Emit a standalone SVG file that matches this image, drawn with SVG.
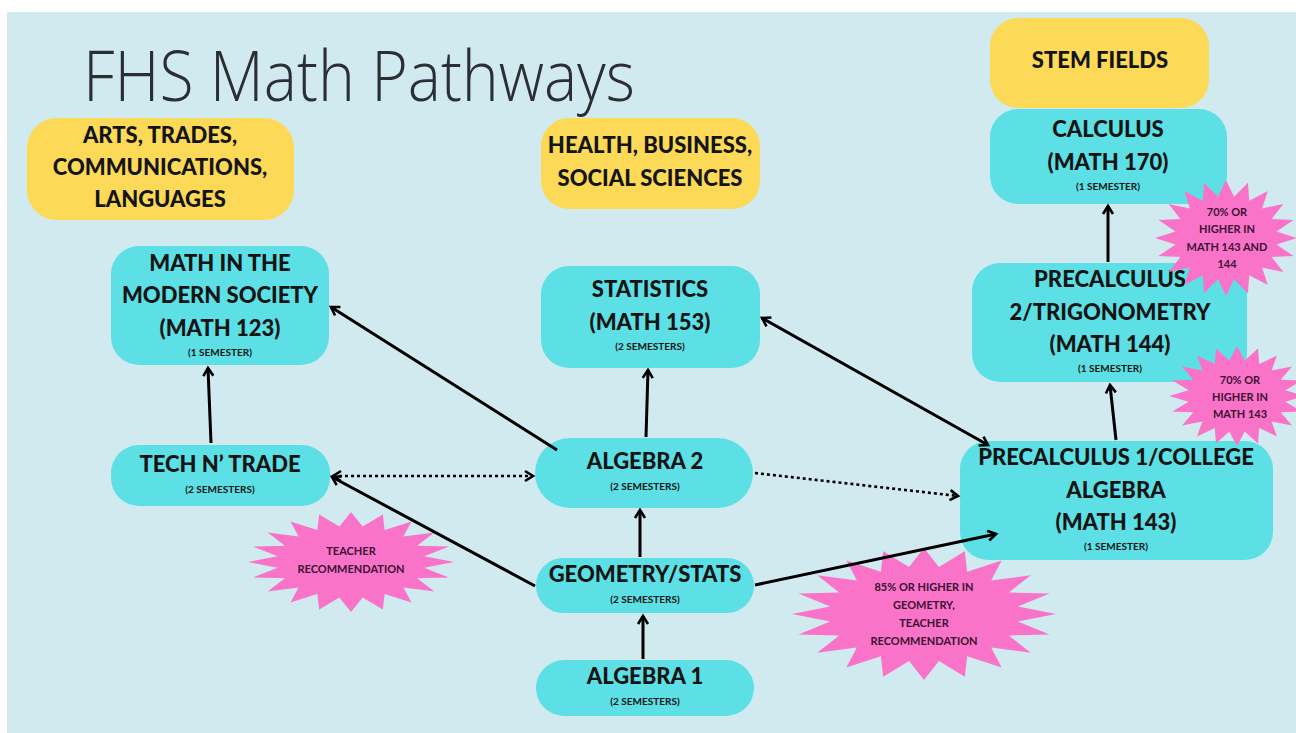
<svg xmlns="http://www.w3.org/2000/svg" xmlns:xlink="http://www.w3.org/1999/xlink" width="1296" height="733" viewBox="0 0 1296 733">
<style>
.node{fill:#5ce0e5}
.cat{fill:#fcd957}
.star{fill:#f974c9}
.big{font-family:Lato,"Open Sans",sans-serif;font-weight:900;font-size:22px;fill:#141414;text-anchor:middle}
.sm{font-family:Lato,"Open Sans",sans-serif;font-weight:700;font-size:10px;fill:#141414;text-anchor:middle}
.st{font-family:Lato,"Open Sans",sans-serif;font-weight:700;font-size:11px;fill:#3a1030;text-anchor:middle}
.c{stroke:#000;stroke-width:3;fill:none;marker-end:url(#arr)}
.d{stroke-dasharray:3 3;stroke-width:2.6}
.b{marker-start:url(#arr)}
</style>
<defs>
<marker id="arr" viewBox="0 0 14 14" markerWidth="14" markerHeight="14" refX="11" refY="7" orient="auto-start-reverse" markerUnits="userSpaceOnUse">
<path d="M3,2 L11,7 L3,12" fill="none" stroke="#000" stroke-width="2.6"/>
</marker>
<polygon id="burst" points="100,0 71.1,11.3 95.1,30.9 64.2,32.7 80.9,58.8 50.9,50.9 58.8,80.9 32.7,64.2 30.9,95.1 11.3,71.1 0,100 -11.3,71.1 -30.9,95.1 -32.7,64.2 -58.8,80.9 -50.9,50.9 -80.9,58.8 -64.2,32.7 -95.1,30.9 -71.1,11.3 -100,0 -71.1,-11.3 -95.1,-30.9 -64.2,-32.7 -80.9,-58.8 -50.9,-50.9 -58.8,-80.9 -32.7,-64.2 -30.9,-95.1 -11.3,-71.1 0,-100 11.3,-71.1 30.9,-95.1 32.7,-64.2 58.8,-80.9 50.9,-50.9 80.9,-58.8 64.2,-32.7 95.1,-30.9 71.1,-11.3"/>
</defs>
<rect x="0" y="0" width="1296" height="733" fill="#ffffff"/>
<rect x="7" y="12" width="1289" height="721" fill="#d1eaf0"/>
<text x="83" y="101" font-family="'Open Sans',sans-serif" font-weight="300" font-size="70" fill="#2b2f33" textLength="552" lengthAdjust="spacingAndGlyphs">FHS Math Pathways</text>

<g id="arts"><rect class="cat" x="27" y="118" width="267" height="102" rx="30"/>
<text class="big" x="160" y="143" font-size="20">ARTS, TRADES,</text>
<text class="big" x="160" y="175" font-size="20">COMMUNICATIONS,</text>
<text class="big" x="160" y="207" font-size="20">LANGUAGES</text></g>

<g id="health"><rect class="cat" x="541" y="118" width="219" height="91" rx="28"/>
<text class="big" x="650" y="153" font-size="20">HEALTH, BUSINESS,</text>
<text class="big" x="650" y="186" font-size="20">SOCIAL SCIENCES</text></g>

<g id="stem"><rect class="cat" x="990" y="18" width="219" height="90" rx="28"/>
<text class="big" x="1100" y="68" font-size="20">STEM FIELDS</text></g>

<g id="calculus"><rect class="node" x="990" y="109" width="237" height="95" rx="28"/>
<text class="big" x="1108" y="137">CALCULUS</text>
<text class="big" x="1108" y="170">(MATH 170)</text>
<text class="sm" x="1108" y="190">(1 SEMESTER)</text></g>

<g id="precalc2"><rect class="node" x="972" y="263" width="275" height="119" rx="28"/>
<text class="big" x="1110" y="287">PRECALCULUS</text>
<text class="big" x="1110" y="320">2/TRIGONOMETRY</text>
<text class="big" x="1110" y="352">(MATH 144)</text>
<text class="sm" x="1110" y="372">(1 SEMESTER)</text></g>

<g id="precalc1"><rect class="node" x="960" y="441" width="313" height="119" rx="28"/>
<text class="big" x="1116" y="465">PRECALCULUS 1/COLLEGE</text>
<text class="big" x="1116" y="498">ALGEBRA</text>
<text class="big" x="1116" y="530">(MATH 143)</text>
<text class="sm" x="1116" y="550">(1 SEMESTER)</text></g>

<g id="math123"><rect class="node" x="111" y="246" width="218" height="119" rx="28"/>
<text class="big" x="220" y="271">MATH IN THE</text>
<text class="big" x="220" y="303">MODERN SOCIETY</text>
<text class="big" x="220" y="336">(MATH 123)</text>
<text class="sm" x="220" y="356">(1 SEMESTER)</text></g>

<g id="statistics"><rect class="node" x="541" y="266" width="219" height="102" rx="28"/>
<text class="big" x="650" y="297">STATISTICS</text>
<text class="big" x="650" y="330">(MATH 153)</text>
<text class="sm" x="650" y="350">(2 SEMESTERS)</text></g>

<g id="tech"><rect class="node" x="111" y="445" width="219" height="61" rx="28"/>
<text class="big" x="220" y="472">TECH N’ TRADE</text>
<text class="sm" x="220" y="493">(2 SEMESTERS)</text></g>

<g id="algebra2"><rect class="node" x="535" y="438" width="218" height="70" rx="35"/>
<text class="big" x="645" y="469">ALGEBRA 2</text>
<text class="sm" x="645" y="490">(2 SEMESTERS)</text></g>

<g id="geometry"><rect class="node" x="536" y="558" width="218" height="55" rx="27"/>
<text class="big" x="645" y="582">GEOMETRY/STATS</text>
<text class="sm" x="645" y="603">(2 SEMESTERS)</text></g>

<g id="algebra1"><rect class="node" x="536" y="660" width="218" height="56" rx="28"/>
<text class="big" x="645" y="684">ALGEBRA 1</text>
<text class="sm" x="645" y="705">(2 SEMESTERS)</text></g>

<g id="star-teacher"><use xlink:href="#burst" class="star" transform="translate(351,562) scale(1.03,0.5)"/>
<text class="st" x="351" y="555">TEACHER</text>
<text class="st" x="351" y="573">RECOMMENDATION</text></g>

<g id="star-85"><use xlink:href="#burst" class="star" transform="translate(924,614) scale(1.32,0.66)"/>
<text class="st" x="924" y="591">85% OR HIGHER IN</text>
<text class="st" x="924" y="609">GEOMETRY,</text>
<text class="st" x="924" y="627">TEACHER</text>
<text class="st" x="924" y="645">RECOMMENDATION</text></g>

<g id="star-70a"><use xlink:href="#burst" class="star" transform="translate(1226,238) scale(0.71,0.58)"/>
<text class="st" x="1227" y="216">70% OR</text>
<text class="st" x="1227" y="233">HIGHER IN</text>
<text class="st" x="1227" y="251">MATH 143 AND</text>
<text class="st" x="1227" y="268">144</text></g>

<g id="star-70b"><use xlink:href="#burst" class="star" transform="translate(1237,396) scale(0.68,0.5)"/>
<text class="st" x="1240" y="384">70% OR</text>
<text class="st" x="1240" y="401">HIGHER IN</text>
<text class="st" x="1240" y="418">MATH 143</text></g>

<g id="connectors">
<line class="c" x1="211" y1="443" x2="208" y2="368"/>
<line class="c" x1="557" y1="450" x2="331" y2="307"/>
<line class="c d b" x1="333" y1="476" x2="533" y2="476"/>
<line class="c" x1="535" y1="586" x2="332" y2="477"/>
<line class="c" x1="646" y1="437" x2="648" y2="370"/>
<line class="c b" x1="762" y1="318" x2="988" y2="445"/>
<line class="c d" x1="755" y1="473" x2="958" y2="496"/>
<line class="c" x1="755" y1="585" x2="996" y2="534"/>
<line class="c" x1="640" y1="557" x2="640" y2="510"/>
<line class="c" x1="643" y1="659" x2="643" y2="616"/>
<line class="c" x1="1116" y1="440" x2="1110" y2="385"/>
<line class="c" x1="1108" y1="262" x2="1108" y2="206"/>
</g>
</svg>
